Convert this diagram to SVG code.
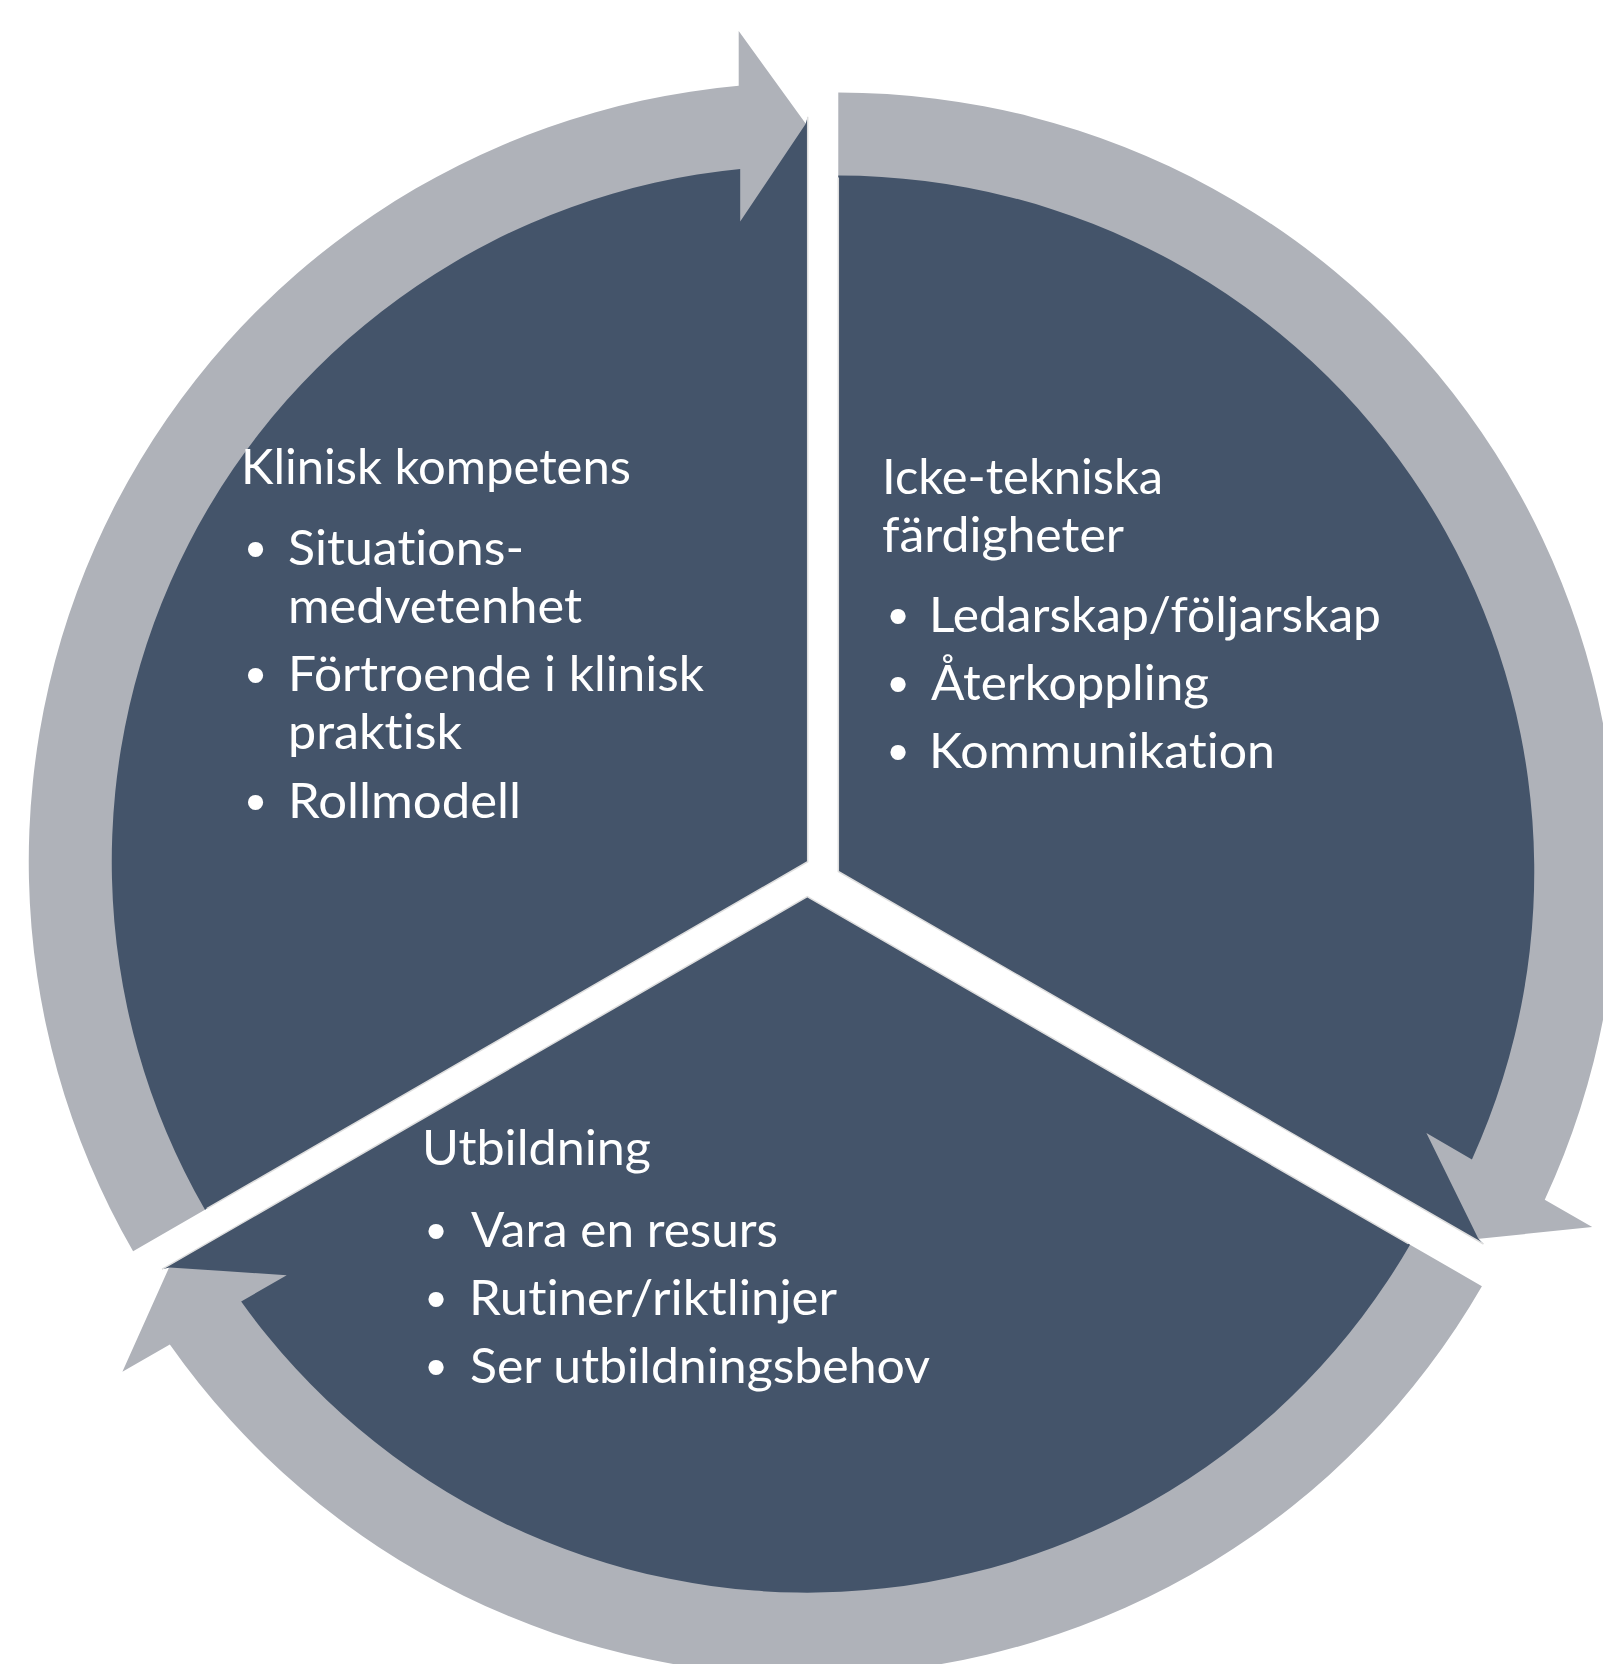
<svg xmlns="http://www.w3.org/2000/svg" xmlns:xlink="http://www.w3.org/1999/xlink" width="1603" height="1664" viewBox="0 0 1603 1664">
  <style>
    .sector { fill: #44546A; }
    .edge { fill: none; stroke: #DEDEDE; stroke-width: 1.5; stroke-linejoin: miter; }
    .arrow { fill: #AFB2B9; }
    .t { font-family: Lato, "Liberation Sans", sans-serif; font-size: 48px; fill: #FFFFFF; font-variant-ligatures: none; font-feature-settings: "liga" 0, "clig" 0; }
    .b { font-family: "Liberation Sans", Arial, sans-serif; font-size: 56px; fill: #FFFFFF; text-anchor: middle; }
  </style>
  <defs>
    <!-- One 120 degree segment, drawn for the upper-left position around its own centre;
         near the top it steps round the arrowhead and reaches in beside its tip. -->
    <path id="segment" d="M0,0 L-602.7,348 A696,696 0 0 1 -67.5,-692.7 L-67.5,-640.1 L-2.25,-737.5 L0,-745 Z"/>
    <path id="segmentEdge" d="M-601,347 L0,0 L0,-745"/>
    <!-- Curved block arrow running clockwise around a segment, head at the top -->
    <path id="cycleArrow" d="M-601.0,347.0 L-674.6,389.5 A779,779 0 0 1 -69,-775.9 L-69,-830.7 L-1,-736.7 L-69,-635.2 L-69,-690.6 A694,694 0 0 0 -601.0,347.0 Z"/>
  </defs>

  <rect width="1603" height="1664" fill="#FFFFFF"/>

  <g id="connectors">
    <use xlink:href="#cycleArrow" class="arrow" transform="translate(807.7,861.7)"/>
    <use xlink:href="#cycleArrow" class="arrow" transform="translate(838.3,871.5) rotate(120)"/>
    <use xlink:href="#cycleArrow" class="arrow" transform="translate(807.3,896.7) rotate(240)"/>
  </g>

  <g id="node-klinisk-kompetens">
    <use xlink:href="#segment" class="sector" transform="translate(807.7,861.7)"/>
    <use xlink:href="#segmentEdge" class="edge" transform="translate(807.7,861.7)"/>
    <text class="t" x="241" y="483.5" textLength="390" lengthAdjust="spacingAndGlyphs">Klinisk kompetens</text>
    <text class="b" x="255.5" y="568">•</text>
    <text class="t" x="288" y="564.5" textLength="236" lengthAdjust="spacingAndGlyphs">Situations-</text>
    <text class="t" x="288" y="622.5" textLength="294" lengthAdjust="spacingAndGlyphs">medvetenhet</text>
    <text class="b" x="255.5" y="694">•</text>
    <text class="t" x="288" y="690.5" textLength="416" lengthAdjust="spacingAndGlyphs">Förtroende i klinisk</text>
    <text class="t" x="288" y="749" textLength="174" lengthAdjust="spacingAndGlyphs">praktisk</text>
    <text class="b" x="255.5" y="821">•</text>
    <text class="t" x="288" y="818" textLength="233" lengthAdjust="spacingAndGlyphs">Rollmodell</text>
  </g>

  <g id="node-icke-tekniska">
    <use xlink:href="#segment" class="sector" transform="translate(838.3,871.5) rotate(120)"/>
    <use xlink:href="#segmentEdge" class="edge" transform="translate(838.3,871.5) rotate(120)"/>
    <text class="t" x="882" y="494" textLength="281" lengthAdjust="spacingAndGlyphs">Icke-tekniska</text>
    <text class="t" x="882" y="551.5" textLength="242" lengthAdjust="spacingAndGlyphs">färdigheter</text>
    <text class="b" x="898" y="635">•</text>
    <text class="t" x="929" y="632" textLength="452" lengthAdjust="spacingAndGlyphs">Ledarskap/följarskap</text>
    <text class="b" x="898" y="703">•</text>
    <text class="t" x="931" y="700" textLength="278" lengthAdjust="spacingAndGlyphs">Återkoppling</text>
    <text class="b" x="898" y="771">•</text>
    <text class="t" x="929" y="768" textLength="346" lengthAdjust="spacingAndGlyphs">Kommunikation</text>
  </g>

  <g id="node-utbildning">
    <use xlink:href="#segment" class="sector" transform="translate(807.3,896.7) rotate(240)"/>
    <use xlink:href="#segmentEdge" class="edge" transform="translate(807.3,896.7) rotate(240)"/>
    <text class="t" x="422" y="1165" textLength="229" lengthAdjust="spacingAndGlyphs">Utbildning</text>
    <text class="b" x="436" y="1249.5">•</text>
    <text class="t" x="471" y="1246.5" textLength="307" lengthAdjust="spacingAndGlyphs">Vara en resurs</text>
    <text class="b" x="436" y="1317.5">•</text>
    <text class="t" x="469" y="1314.5" textLength="368" lengthAdjust="spacingAndGlyphs">Rutiner/riktlinjer</text>
    <text class="b" x="436" y="1385.5">•</text>
    <text class="t" x="470" y="1382.5" textLength="460" lengthAdjust="spacingAndGlyphs">Ser utbildningsbehov</text>
  </g>
</svg>
